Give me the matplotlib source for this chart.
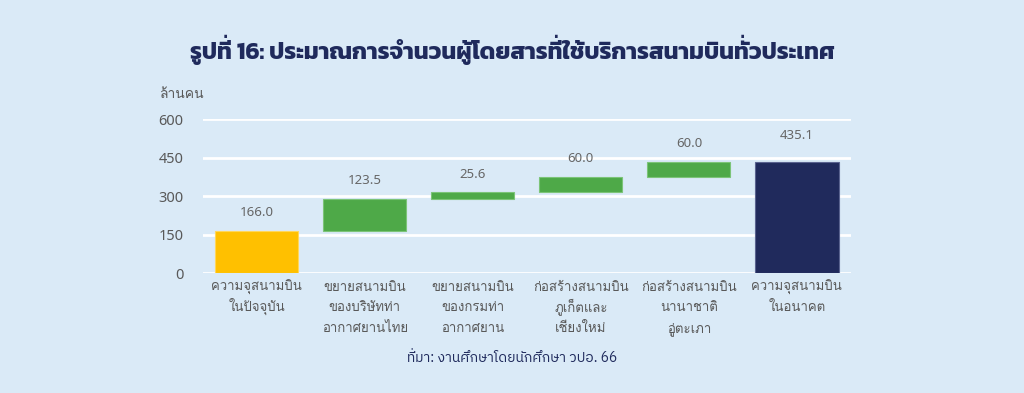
import matplotlib
matplotlib.use("Agg")
import matplotlib.pyplot as plt
import numpy as np

categories = [
    "ความจุสนามบิน\nในปัจจุบัน",
    "ขยายสนามบิน\nของบริษัทท่า\nอากาศยานไทย",
    "ขยายสนามบิน\nของกรมท่า\nอากาศยาน",
    "ก่อสร้างสนามบิน\nภูเก็ตและ\nเชียงใหม่",
    "ก่อสร้างสนามบิน\nนานาชาติ\nอู่ตะเภา",
    "ความจุสนามบิน\nในอนาคต",
]
values = [166.0, 123.5, 25.6, 60.0, 60.0, 435.1]
kinds = ["start", "step", "step", "step", "step", "total"]
yticks = [0, 150, 300, 450, 600]

title = "รูปที่ 16: ประมาณการจำนวนผู้โดยสารที่ใช้บริการสนามบินทั่วประเทศ"
ylabel = "ล้านคน"
source = "ที่มา: งานศึกษาโดยนักศึกษา วปอ. 66"

bg = "#DAEAF7"
navy = "#1F2A5C"
gray = "#595959"
colors = {"start": "#FFC000", "step": "#4EA948", "total": "#202A5C"}
edges = {"start": "#FFD75A", "step": "#7CC478", "total": "#5A6390"}

looped = ["Loma", "Noto Sans", "DejaVu Sans"]
numfont = ["Noto Sans", "DejaVu Sans"]

UPPER = "\u0e31\u0e34\u0e35\u0e36\u0e37\u0e47\u0e4d"
TONES = "\u0e48\u0e49\u0e4a\u0e4b\u0e4c"
TALL = "ปฝฟฬ"
TALL_UPPER = {"\u0e34": "\uf701", "\u0e35": "\uf702", "\u0e36": "\uf703",
              "\u0e37": "\uf704", "\u0e31": "\uf710", "\u0e4d": "\uf711",
              "\u0e47": "\uf712"}


def thai_pua(s):
    # old-style presentation forms so Loma stacks the marks (no shaper here)
    out = []
    base = ""
    has_upper = False
    for ch in s:
        if ch in UPPER:
            out.append(TALL_UPPER[ch] if base in TALL else ch)
            has_upper = True
        elif ch in TONES:
            k = TONES.index(ch)
            if has_upper:
                out.append(chr(0xF713 + k) if base in TALL else ch)
            else:
                out.append(chr(0xF705 + k) if base in TALL else chr(0xF70A + k))
        elif ch in "\u0e38\u0e39\u0e3a":
            out.append(ch)
        else:
            out.append(ch)
            base = ch
            has_upper = False
    return "".join(out)


def lift_tones(s):
    # tone over an upper vowel: take Loma's raised form, the other font lacks it
    out = []
    for ch in s:
        if ch in TONES and out and out[-1] in UPPER:
            out.append(chr(0xF713 + TONES.index(ch)))
        else:
            out.append(ch)
    return "".join(out)


# running totals for the floating bars
bottoms = []
running = 0.0
for v, k in zip(values, kinds):
    if k == "step":
        bottoms.append(running)
        running += v
    else:
        bottoms.append(0.0)
        running = v

fig = plt.figure(figsize=(10.24, 3.93), dpi=100, facecolor=bg)
ax = fig.add_axes([0.198, 0.3046, 0.633, 0.392])
ax.set_facecolor(bg)

x = np.arange(len(categories))
ax.bar(x, values, bottom=bottoms, width=0.77,
       color=[colors[k] for k in kinds],
       edgecolor=[edges[k] for k in kinds], linewidth=0.8, zorder=3)

for xi, v, b, k in zip(x, values, bottoms, kinds):
    ax.annotate(f"{v:.1f}", (xi, b + v), xytext=(0, 19 if k == "total" else 13),
                textcoords="offset points", ha="center", va="center",
                fontsize=9.5, color="#666666", family=numfont)

# category names, one line at a time so the rows stay evenly spaced
for xi, cat in zip(x, categories):
    for j, line in enumerate(cat.split("\n")):
        ax.annotate(thai_pua(line), (xi, 0), xycoords=("data", "axes fraction"),
                    xytext=(0, -12.5 - 14.8 * j), textcoords="offset points",
                    ha="center", va="baseline", fontsize=9.5, color=gray,
                    family=looped)

ax.set_xlim(-0.5, len(categories) - 0.5)
ax.set_ylim(0, 600)
ax.set_yticks(yticks)
ax.set_yticklabels([str(t) for t in yticks], family=numfont, fontsize=10.5, color=gray)
ax.set_xticks(x)
ax.set_xticklabels([])
ax.tick_params(axis="both", length=0)
ax.tick_params(axis="y", pad=14)
ax.grid(axis="y", color="white", linewidth=2, zorder=0)
ax.set_axisbelow(True)
for s in ax.spines.values():
    s.set_visible(False)

fig.text(0.156, 0.758, thai_pua(ylabel), fontsize=10, color=gray, family=looped,
         va="center")
fig.text(0.5, 0.85, lift_tones(title), ha="center", va="baseline", fontsize=17,
         fontweight="bold", color=navy, family=["Kanit", "Loma", "DejaVu Sans"])
fig.text(0.5, 0.08, lift_tones(source), ha="center", va="baseline", fontsize=10,
         color=navy, family=["IBM Plex Sans Thai", "Loma", "DejaVu Sans"])

fig.savefig("out.png", dpi=100, facecolor=bg)
